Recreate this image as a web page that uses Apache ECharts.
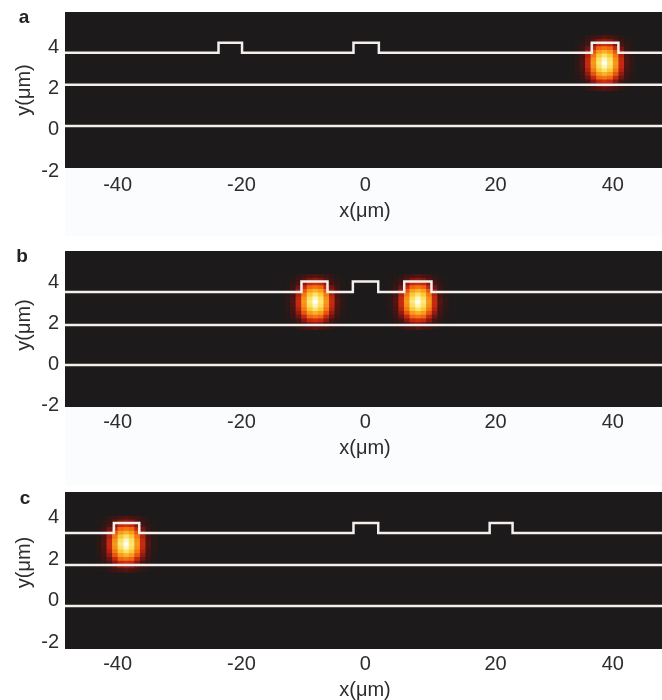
<!DOCTYPE html>
<html><head><meta charset="utf-8">
<style>html,body{margin:0;padding:0;background:#fff}#c{width:662px;height:700px}</style>
<script src="https://cdn.jsdelivr.net/npm/echarts@6/dist/echarts.min.js"></script>
</head><body><div id="c"></div>
<script>
const xTicks = [-40, -20, 0, 20, 40];
const yTicks = [-2, 0, 2, 4];
const xRange = [-48.5, 47.94];
const yRangeA = [-2.0, 5.6];
const yRangeB = [-2.15, 5.46];
const yRangeC = [-2.38, 5.15];

const ridgeA = [[-48.5,3.61],[-23.7,3.61],[-23.7,4.1],[-19.9,4.1],[-19.9,3.61],[-1.9,3.61],[-1.9,4.1],[2.2,4.1],[2.2,3.61],[36.6,3.61],[36.6,4.1],[40.9,4.1],[40.9,3.61],[47.94,3.61]];
const midA = [[-48.5,2.05],[47.94,2.05]];
const lowA = [[-48.5,0.05],[47.94,0.05]];
const ridgeB = [[-48.5,3.46],[-10.3,3.46],[-10.3,3.97],[-6.1,3.97],[-6.1,3.46],[-2,3.46],[-2,3.97],[2.1,3.97],[2.1,3.46],[6.3,3.46],[6.3,3.97],[10.7,3.97],[10.7,3.46],[47.94,3.46]];
const midB = [[-48.5,1.85],[47.94,1.85]];
const lowB = [[-48.5,-0.1],[47.94,-0.1]];
const ridgeC = [[-48.5,3.18],[-40.6,3.18],[-40.6,3.66],[-36.5,3.66],[-36.5,3.18],[-1.9,3.18],[-1.9,3.66],[2.1,3.66],[2.1,3.18],[20.1,3.18],[20.1,3.66],[23.8,3.66],[23.8,3.18],[47.94,3.18]];
const midC = [[-48.5,1.65],[47.94,1.65]];
const lowC = [[-48.5,-0.32],[47.94,-0.32]];

const spotsA = [[38.65,3.12]];
const spotsB = [[-8.1,2.98],[8.5,2.98]];
const spotsC = [[-38.65,2.66]];

const spotDx = [-4.5,-3.6,-2.7,-1.8,-0.9,0,0.9,1.8,2.7,3.6,4.5];
const spotDy = [1.26,1.08,0.9,0.72,0.54,0.36,0.18,0,-0.18,-0.36,-0.54,-0.72,-0.9,-1.08,-1.26];
const spotI = [
[0,.01,.04,.09,.12,.14,.12,.09,.04,.01,0],
[.01,.03,.08,.14,.22,.25,.22,.14,.08,.03,.01],
[.01,.04,.12,.24,.35,.38,.35,.24,.12,.04,.01],
[.02,.08,.19,.35,.51,.54,.51,.35,.19,.08,.02],
[.03,.10,.26,.47,.63,.69,.63,.47,.26,.10,.03],
[.03,.12,.31,.55,.75,.85,.75,.55,.31,.12,.03],
[.04,.13,.35,.60,.84,.95,.84,.60,.35,.13,.04],
[.04,.14,.36,.62,.88,1,.88,.62,.36,.14,.04],
[.04,.13,.35,.60,.84,.95,.84,.60,.35,.13,.04],
[.03,.12,.31,.55,.75,.85,.75,.55,.31,.12,.03],
[.03,.10,.26,.47,.63,.69,.63,.47,.26,.10,.03],
[.02,.08,.19,.35,.51,.54,.51,.35,.19,.08,.02],
[.01,.04,.12,.24,.35,.38,.35,.24,.12,.04,.01],
[.01,.03,.08,.14,.22,.25,.22,.14,.08,.03,.01],
[0,.01,.04,.09,.12,.14,.12,.09,.04,.01,0]
];

const panels = [
 {letter:'a', top:12, h:156, y:yRangeA, lines:[ridgeA,midA,lowA], spots:spotsA, lx:24, ly:18, pad:0, yPad:6, xm:7, xg:33},
 {letter:'b', top:251, h:156, y:yRangeB, lines:[ridgeB,midB,lowB], spots:spotsB, lx:22, ly:257, pad:8, yPad:4, xm:5, xg:31},
 {letter:'c', top:492, h:157, y:yRangeC, lines:[ridgeC,midC,lowC], spots:spotsC, lx:25, ly:499, pad:16, yPad:3, xm:5, xg:31}
];
const font = '"Liberation Sans", Arial, sans-serif';
const txt = '#2e2c2c';
const grid=[],xAxis=[],yAxis=[],series=[],graphic=[];
graphic.push({type:'rect',z:-1,shape:{x:65,y:168,width:597,height:68},style:{fill:'#fafcfe'}});
graphic.push({type:'rect',z:-1,shape:{x:65,y:407,width:597,height:79},style:{fill:'#fafcfe'}});
panels.forEach((p,i)=>{
  grid.push({left:65,right:0,top:p.top,height:p.h,show:true,backgroundColor:'#1c1a1a',borderWidth:0,outerBoundsMode:'none',containLabel:false});
  xAxis.push({type:'value',gridIndex:i,min:xRange[0],max:xRange[1],
    axisLine:{show:false},axisTick:{show:false},splitLine:{show:false},
    axisLabel:{customValues:xTicks,color:txt,fontSize:20,fontFamily:font,margin:p.xm,
      formatter:v=>v===20?'{s|20}':String(v),rich:{s:{padding:[0,0,0,13],fontSize:20,fontFamily:font,color:txt}}},
    name:'x(μm)',nameLocation:'middle',nameGap:p.xg,
    nameTextStyle:{color:txt,fontSize:20,fontFamily:font,padding:[0,0,0,3]}});
  yAxis.push({type:'value',gridIndex:i,min:p.y[0],max:p.y[1],
    axisLine:{show:false},axisTick:{show:false},splitLine:{show:false},
    axisLabel:{customValues:yTicks,color:txt,fontSize:20,fontFamily:font,margin:6,
      formatter:v=>'{t|'+v+'}',rich:{t:{padding:[p.yPad,0,0,0],fontSize:20,fontFamily:font,color:txt}}},
    name:'y(μm)',nameLocation:'middle',nameGap:31,nameMoveOverlap:false,
    nameTextStyle:{color:txt,fontSize:20,fontFamily:font,padding:[0,0,0,p.pad]}});
  const cells=[];
  p.spots.forEach(s=>spotI.forEach((row,r)=>row.forEach((v,c)=>cells.push([s[0]+spotDx[c],s[1]+spotDy[r],v]))));
  series.push({type:'custom',xAxisIndex:i,yAxisIndex:i,data:cells,silent:true,z:2,
    encode:{x:0,y:1},clip:true,
    renderItem:(params,api)=>{
      const pt=api.coord([api.value(0),api.value(1)]);
      const sz=api.size([0.9,0.18]);
      return {type:'rect',shape:{x:pt[0]-sz[0]/2,y:pt[1]-sz[1]/2,width:sz[0]+0.6,height:sz[1]+0.6},
        style:{fill:api.visual('color')}};
    }});
  p.lines.forEach(l=>series.push({type:'line',xAxisIndex:i,yAxisIndex:i,data:l,showSymbol:false,z:5,silent:true,
    lineStyle:{color:'#f4efea',width:2.5,join:'miter'}}));
  graphic.push({type:'text',x:p.lx,y:p.ly,style:{text:p.letter,font:'bold 19px '+font,fill:'#222',textAlign:'center',textVerticalAlign:'middle'}});
});
const customIdx=[0,4,8];
const chart=echarts.init(document.getElementById('c'),null,{renderer:'canvas'});
chart.setOption({animation:false,backgroundColor:'#fff',grid,xAxis,yAxis,series,graphic,
  visualMap:{show:false,type:'continuous',seriesIndex:customIdx,dimension:2,min:0,max:1,
    inRange:{color:['#1c1a1a','#4a1412','#8e1a12','#d02c10','#f0620f','#f89a1c','#fcc83a','#fee870','#fffff0']}}});
</script></body></html>
